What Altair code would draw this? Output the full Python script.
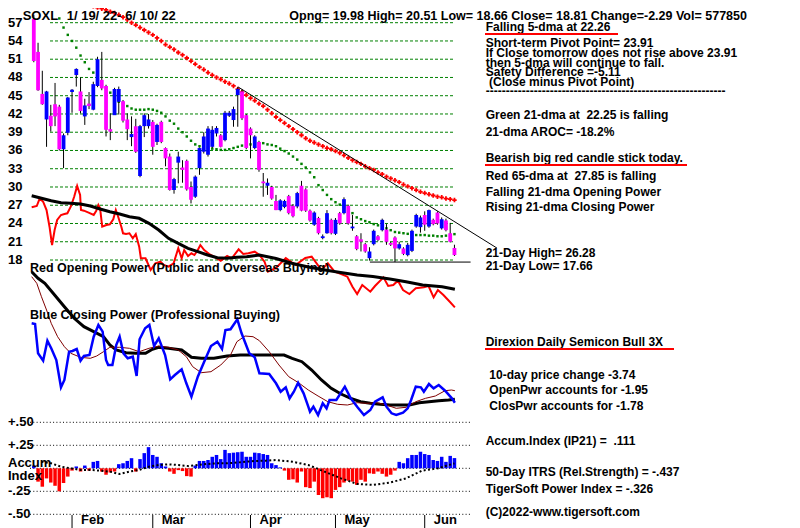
import altair as alt
import pandas as pd

# ---------------- data ----------------
TICKER = "SOXL"
PERIOD = "1/ 19/ 22- 6/ 10/ 22"
QUOTE = "Opng= 19.98 High= 20.51 Low= 18.66 Close= 18.81 Change=-2.29 Vol= 577850"

open_px = [57.6, 52.2, 45.3, 41.1, 41.7, 43.6, 43.2, 36.2, 38.9, 45.6,
           48.4, 45.7, 41.6, 43.7, 42.7, 46.6, 47.6, 46.6, 39.5, 41.8,
           44.0, 44.1, 41.1, 38.2, 40.0, 31.8, 40.0, 40.0, 40.7, 37.4,
           40.7, 36.4, 35.0, 29.5, 34.0, 33.2, 34.3, 30.0, 28.4, 33.1,
           35.8, 35.3, 36.6, 38.8, 38.5, 37.7, 41.7, 41.0, 45.1, 45.7,
           41.8, 39.6, 36.4, 37.4, 30.9, 30.2, 30.0, 27.7, 26.2, 26.7,
           28.5, 26.9, 26.8, 30.2, 29.6, 26.1, 23.8, 24.9, 21.6, 22.4,
           24.6, 22.3, 25.7, 25.7, 26.9, 23.2, 21.9, 21.4, 20.6, 18.3,
           20.6, 21.9, 22.9, 23.0, 20.8, 21.7, 19.9, 19.9, 18.8, 19.5,
           23.5, 23.4, 25.4, 23.5, 24.6, 25.8, 23.2, 24.5, 22.4, 19.98]
high_px = [58.3, 53.7, 49.1, 45.8, 43.5, 47.1, 43.5, 38.8, 44.8, 46.1,
           49.5, 48.0, 44.5, 45.6, 47.3, 51.4, 52.2, 46.8, 42.1, 46.3,
           46.5, 44.3, 42.1, 41.6, 41.2, 40.2, 42.1, 42.0, 41.0, 40.4,
           40.9, 36.5, 35.5, 31.5, 35.8, 34.4, 34.5, 30.9, 31.9, 36.5,
           39.0, 40.0, 40.0, 40.0, 38.7, 42.5, 42.5, 43.2, 46.4, 46.0,
           42.0, 39.8, 38.5, 37.6, 32.3, 31.4, 30.2, 28.7, 28.0, 27.9,
           28.7, 27.2, 29.2, 31.0, 29.8, 26.3, 26.0, 25.1, 22.2, 26.2,
           24.8, 24.9, 25.9, 28.3, 27.1, 25.4, 22.1, 22.4, 20.8, 20.1,
           23.0, 22.1, 24.8, 23.9, 21.0, 21.9, 21.0, 20.1, 20.8, 23.0,
           25.6, 25.3, 26.0, 26.28, 24.8, 26.0, 25.0, 24.8, 24.1, 20.51]
low_px = [50.5, 45.8, 43.5, 36.6, 39.1, 40.0, 36.0, 33.1, 38.5, 42.2,
          46.5, 42.1, 40.2, 42.8, 42.6, 46.4, 45.9, 38.3, 37.7, 42.0,
          41.9, 40.6, 37.7, 36.7, 35.6, 31.6, 38.2, 39.6, 35.3, 36.9,
          37.2, 33.4, 29.4, 28.9, 30.6, 30.7, 29.4, 27.3, 28.2, 32.0,
          35.5, 35.0, 36.4, 38.3, 36.5, 37.5, 41.5, 39.9, 39.9, 41.0,
          36.2, 34.7, 36.2, 32.5, 28.4, 28.7, 27.9, 26.2, 26.0, 26.5,
          25.5, 25.0, 26.5, 26.0, 25.9, 24.3, 23.6, 22.2, 21.4, 22.3,
          22.2, 22.1, 23.8, 25.5, 23.8, 22.8, 19.6, 19.4, 19.2, 17.9,
          20.4, 21.1, 22.7, 20.5, 20.3, 17.66, 19.7, 18.8, 18.6, 19.3,
          23.3, 22.5, 22.8, 23.3, 23.7, 23.8, 23.0, 22.7, 20.9, 18.66]
close_px = [50.7, 45.9, 43.6, 45.7, 40.0, 41.6, 36.2, 38.5, 44.7, 46.0,
            49.4, 42.5, 43.4, 43.3, 46.9, 51.0, 46.2, 39.4, 39.1, 46.1,
            46.1, 40.9, 39.5, 38.7, 35.8, 40.0, 41.8, 41.1, 36.6, 40.2,
            37.4, 34.7, 29.5, 31.3, 35.0, 32.8, 29.6, 27.9, 31.7, 36.4,
            38.3, 39.6, 39.4, 39.7, 36.6, 42.2, 42.2, 42.8, 46.1, 41.3,
            36.4, 38.5, 38.3, 32.8, 30.6, 30.7, 28.1, 26.2, 27.8, 27.7,
            25.7, 25.2, 29.0, 26.1, 26.1, 24.5, 25.8, 22.4, 21.9, 25.7,
            22.4, 24.6, 24.0, 28.0, 24.0, 23.5, 19.8, 21.0, 19.4, 19.4,
            22.8, 21.3, 24.6, 21.0, 20.5, 19.9, 20.6, 19.0, 20.5, 22.8,
            25.4, 25.0, 23.8, 26.2, 23.9, 24.0, 24.7, 22.9, 21.0, 18.81]

ma65_start = 3
ma65 = [60.7, 60.6, 60.5, 60.5, 60.4, 60.4, 60.3, 60.2, 60.1, 60.0,
        59.9, 59.7, 59.5, 59.3, 59.1, 58.8, 58.6, 58.3, 57.9, 57.5,
        57.0, 56.6, 56.2, 55.8, 55.4, 55.0, 54.5, 54.0, 53.4, 53.0,
        52.6, 52.1, 51.7, 51.2, 50.7, 50.2, 49.7, 49.3, 48.8, 48.4,
        48.0, 47.7, 47.3, 47.0, 46.6, 46.1, 45.6, 45.1, 44.6, 44.2,
        43.7, 43.3, 42.7, 42.1, 41.5, 41.0, 40.5, 40.0, 39.5, 39.0,
        38.5, 38.0, 37.6, 37.3, 37.0, 36.7, 36.4, 36.2, 35.9, 35.6,
        35.2, 34.8, 34.4, 34.1, 33.8, 33.4, 33.1, 32.8, 32.4, 32.1,
        31.7, 31.4, 31.1, 30.8, 30.4, 30.1, 29.8, 29.5, 29.2, 29.0,
        28.8, 28.6, 28.4, 28.3, 28.1, 28.0, 27.85]

ma21_start = 6
ma21 = [57.7, 56.2, 55.0, 54.0, 52.9, 51.6, 50.5, 49.4, 48.8, 47.9,
        47.0, 46.4, 45.5, 44.5, 44.0, 43.8, 43.3, 42.9, 42.7, 42.7,
        42.7, 42.8, 42.7, 42.5, 42.2, 41.6, 40.9, 40.4, 39.6, 39.0,
        38.3, 37.6, 37.0, 36.7, 36.6, 36.5, 36.3, 36.2, 36.1, 36.1,
        36.2, 36.4, 36.6, 36.8, 36.9, 37.0, 37.1, 37.2, 37.2, 37.0,
        36.9, 36.7, 36.3, 35.9, 35.5, 35.0, 34.5, 33.8, 33.2, 32.4,
        31.6, 30.3, 29.5, 28.7, 28.0, 27.5, 27.1, 26.7, 26.2, 25.7,
        25.0, 24.7, 24.4, 24.2, 23.9, 23.7, 23.4, 23.2, 22.9, 22.6,
        22.5, 22.4, 22.3, 22.1, 22.1, 22.1, 22.1, 22.0, 22.0, 21.9,
        21.9, 22.0, 22.1, 22.25]

trend_day = [48.1, 109.0]
trend_val = [46.43, 19.96]
low21 = 17.66
low21_span = [79.1, 102.8]

price_levels = [57, 54, 51, 48, 45, 42, 39, 36, 33, 30, 27, 24, 21, 18]

# Opening power (red) and its moving average (black)
op_day = [-0.5, 0.7, 1.4, 2.2, 3.0, 3.7, 4.3, 4.9, 5.5, 6.4, 7.2, 7.9, 8.7, 9.5, 10.2,
          10.9, 11.1, 11.8, 12.9, 14.1, 14.7, 15.2, 15.6, 16.1, 17.1, 17.9, 18.7, 19.3,
          19.8, 20.6, 21.0, 21.7, 22.5, 23.3, 24.0, 24.8, 25.2, 26.3, 27.5, 28.6, 29.8,
          30.6, 31.7, 32.9, 34.0, 34.8, 35.4, 36.3, 37.1, 37.8, 38.6, 39.2, 40.1, 41.3,
          42.4, 44.0, 45.5, 46.6, 48.2, 49.3, 50.5, 52.0, 53.1, 54.3, 55.1, 57.0, 59.3,
          61.6, 63.9, 65.4, 67.7, 69.2, 70.8, 71.9, 73.8, 75.0, 76.1, 77.3, 79.2, 80.3,
          82.3, 83.4, 84.6, 85.7, 86.9, 88.4, 89.9, 91.8, 92.9, 94.1, 95.1, 96.4, 97.9, 99.1]
op_val = [212.7, 214, 221.7, 218.3, 210, 193.3, 175, 190, 200, 205, 206, 206.7, 213.3,
          223.3, 234, 225, 210, 209.3, 207.3, 205, 209.3, 215, 211.7, 193.3, 195, 195.7,
          200.7, 210, 204, 193.3, 186.7, 186, 186.7, 181.7, 186, 173.3, 161.7, 161.7, 150,
          156.7, 158.3, 155, 153.3, 156.7, 171.7, 161.7, 170, 164, 166.7, 165, 170, 175,
          170, 166, 163.3, 159.3, 164, 161.7, 170.7, 166, 166.7, 168.3, 165, 158.3, 148.3,
          152, 162, 155, 162, 163.3, 150, 156.7, 148.3, 146.7, 143.3, 133.3, 126, 135,
          128.3, 134, 142.7, 134, 135, 139.3, 130, 126, 131.7, 132.7, 134, 122.7, 130,
          125, 118.3, 112.7]
opma_day = [-0.5, 1.8, 4.1, 6.4, 8.7, 11.0, 13.3, 15.6, 17.9, 20.2, 22.5, 24.8, 27.1,
            29.4, 31.7, 34.0, 36.3, 38.6, 40.9, 43.2, 45.5, 47.8, 50.1, 53.1, 57.0, 60.7,
            64.6, 68.5, 72.2, 76.1, 79.8, 83.8, 87.6, 91.5, 96.1, 99.1]
opma_val = [224.3, 221.7, 219.3, 217.3, 216.7, 216, 214, 211, 208.3, 206, 203.3, 201.7,
            196.7, 190, 181.7, 176.7, 171.7, 168.3, 165, 162.3, 161.7, 162.7, 163.3, 165,
            161.5, 156.7, 153, 150, 147.5, 145, 143.5, 141, 138.3, 135, 133.3, 130.7]

# Closing power (blue), its 21-dma (thin dark red) and longer average (black)
cp_day = [-0.5, 0.3, 1.0, 2.2, 3.2, 4.1, 5.3, 6.4, 7.2, 8.3, 9.1, 10.1, 11.0, 11.8, 13.1,
          14.1, 15.2, 16.2, 17.0, 17.5, 18.5, 19.4, 20.2, 21.1, 22.1, 23.3, 24.2, 24.9,
          26.2, 27.2, 28.3, 29.4, 30.9, 32.1, 33.2, 34.8, 35.9, 37.1, 38.6, 40.1, 41.7,
          43.2, 44.3, 45.1, 46.3, 47.9, 48.9, 50.7, 52.0, 53.1, 55.4, 57.0, 58.1, 59.3,
          60.2, 61.2, 62.2, 63.5, 64.6, 65.0, 65.8, 66.9, 68.0, 68.9, 69.6, 71.2, 73.2,
          74.6, 76.1, 77.7, 79.2, 80.3, 82.1, 83.0, 84.2, 85.3, 86.9, 88.0, 88.8, 89.9,
          91.1, 91.8, 93.0, 94.1, 95.3, 96.8, 98.4, 99.1]
cp_val = [96.7, 96, 66.7, 59.3, 79.3, 71.7, 60, 32.7, 40, 68.3, 69, 71, 59.3, 64, 65,
          83.3, 95, 88.3, 60, 55, 55, 75, 83.3, 66.7, 61.7, 63.3, 44, 80.7, 91.7, 95, 74,
          81.7, 65, 40.7, 45, 50.7, 36.7, 23.3, 43.3, 58.3, 74, 78.3, 71, 90, 90.7, 100.7,
          86.7, 66.7, 62.7, 46.7, 46, 36.7, 28.3, 32.7, 21.7, 28.3, 37.3, 26.7, 13.3, 8.3,
          13.3, 5, 16.7, 11.7, 20, 20, 33.3, 21.7, 13.3, 5, 10, 18.3, 22.7, 13.3, 6.7, 5,
          7.3, 11.7, 20, 33.3, 32.7, 28.3, 36, 31.7, 35, 29.3, 21.7, 17.3]
cpm_day = [-0.5, 0.7, 1.8, 3.0, 4.1, 5.6, 7.2, 8.7, 11.0, 13.3, 14.8, 16.4, 17.9, 20.2,
           22.5, 24.8, 27.1, 29.4, 31.7, 34.0, 35.9, 37.4, 39.4, 41.7, 44.0, 46.3, 47.8,
           49.7, 51.6, 53.1, 55.4, 57.7, 60.0, 62.3, 64.6, 66.9, 69.2, 71.5, 73.8, 76.1,
           78.4, 80.7, 83.0, 85.3, 87.6, 89.9, 92.2, 94.5, 96.8, 98.3, 99.1]
cpm_val = [143.3, 136.7, 123.3, 110, 96.7, 83.3, 73.3, 66.7, 62.7, 61.7, 64, 68.3, 72.7,
           72.7, 71.7, 68.3, 71.7, 74, 72.7, 70, 63.3, 53.3, 47.3, 48.3, 55, 65, 78.3, 84,
           83.3, 79.3, 68.3, 55, 43.3, 37.3, 30, 24, 18.3, 15.7, 15, 17.3, 16.7, 17.3, 15,
           11.7, 12.7, 18.3, 21.7, 24, 29.3, 30, 29.3]
cpl_day = [-0.5, 1.0, 2.6, 4.9, 7.2, 9.5, 11.8, 14.1, 16.4, 17.9, 19.4, 21.7, 24.0, 26.3,
           27.9, 29.4, 31.7, 34.8, 37.1, 39.4, 42.4, 45.5, 48.6, 51.6, 55.4, 58.9, 60.8,
           63.1, 65.4, 67.7, 70.0, 72.3, 74.6, 76.9, 79.2, 81.5, 83.8, 88.4, 90.7, 93.0,
           95.3, 97.6, 99.1]
cpl_val = [148.3, 141.7, 136.7, 125, 113.3, 101.7, 93.3, 88.3, 83.3, 75, 70, 67.3, 66.7,
           66.7, 70.7, 72.7, 71.7, 70, 62.7, 61.7, 61.7, 64, 65, 65, 65, 65, 61.7, 58.3,
           50, 40, 31.7, 26, 21.7, 18.3, 16.7, 15.7, 15, 15, 17.3, 18.3, 19.3, 20, 20.7]

# Accumulation index (IP21) histogram and its dotted average
ip21 = [0.03, -0.145, -0.2, -0.11, -0.155, -0.19, -0.25, -0.16, -0.09, -0.025,
        0.02, -0.035, 0.03, -0.025, 0.07, 0.08, -0.035, -0.07, -0.045, -0.035,
        0.045, 0.055, 0.08, 0.11, -0.035, 0.10, 0.165, 0.23, 0.145, 0.125,
        0.055, 0.02, -0.035, -0.06, -0.02, -0.03, -0.085, -0.09, 0.03, 0.08,
        0.08, 0.09, 0.125, 0.145, 0.10, 0.2, 0.165, 0.17, 0.175, 0.18,
        0.125, 0.125, 0.17, 0.165, 0.155, 0.145, 0.055, 0.035, 0.01, -0.025,
        -0.125, -0.12, -0.155, -0.035, -0.205, -0.215, -0.145, -0.29, -0.325, -0.315,
        -0.325, -0.235, -0.205, -0.155, -0.135, -0.145, -0.18, -0.125, -0.145, -0.055,
        -0.06, -0.035, -0.06, -0.09, -0.07, -0.025, 0.07, 0.055, 0.11, 0.145,
        0.145, 0.18, 0.155, 0.145, 0.09, 0.08, 0.125, 0.07, 0.135, 0.111]
ipma_day = [1.8, 4.1, 6.4, 8.7, 11.0, 13.3, 15.6, 17.9, 20.2, 22.5, 24.8, 27.1, 29.4,
            31.7, 34.0, 36.3, 38.5, 40.8, 43.1, 45.4, 47.7, 50.0, 52.3, 54.6, 56.9, 60.8,
            64.6, 68.4, 72.3, 76.1, 79.9, 83.7, 87.6, 91.4, 95.2, 99.0]
ipma_val = [0.072, 0.054, 0.018, 0.0, -0.018, -0.018, -0.025, -0.036, -0.062, -0.036,
            -0.018, 0.018, 0.036, 0.043, 0.036, 0.025, 0.036, 0.047, 0.054, 0.054, 0.062,
            0.072, 0.08, 0.083, 0.09, 0.072, 0.036, -0.036, -0.109, -0.17, -0.181, -0.156,
            -0.109, -0.025, 0.0, 0.054]
acc_levels = [0.5, 0.25, 0.0, -0.25, -0.5]
acc_labels = ["+.50", "+.25", "", "-.25", "-.50"]

months = ["Feb", "Mar", "Apr", "May", "Jun"]
month_start = [9, 28, 51, 71, 92]

notes = ["Falling 5-dma at 22.26",
         "Short-term Pivot Point= 23.91",
         "If Close tomorrow does not rise above 23.91",
         "then 5-dma will continue to fall.",
         "Safety Difference =-5.11",
         "(Close minus Pivot Point)",
         "-" * 60,
         "Green 21-dma at \u00a022.25 is falling",
         "21-dma AROC= -18.2%",
         "Bearish big red candle stick today.",
         "Red 65-dma at \u00a027.85 is falling",
         "Falling 21-dma Opening Power",
         "Rising 21-dma Closing Power",
         "21-Day High= 26.28",
         "21-Day Low= 17.66",
         "Direxion Daily Semicon Bull 3X",
         "10-day price change -3.74",
         "OpenPwr accounts for -1.95",
         "ClosPwr accounts for -1.78",
         "Accum.Index (IP21) = \u00a0.111",
         "50-Day ITRS (Rel.Strength) = -.437",
         "TigerSoft Power Index = -.326",
         "(C)2022-www.tigersoft.com"]

# ---------------- layout ----------------
OX, OY = 8, 8
def px(x):
    return x - OX
def py(y):
    return y - OY

FONT = "Liberation Sans"
X_SCALE = alt.Scale(domain=[0, 99], range=[px(28.8), px(28.8 + 4.35 * 99)], nice=False, zero=False)
PRICE_SCALE = alt.Scale(domain=[18, 57], range=[py(260.0), py(22.7)], nice=False, zero=False)
POWER_SCALE = alt.Scale(domain=[0, 250], range=[py(420), py(170)], nice=False, zero=False)
ACC_SCALE = alt.Scale(domain=[-0.5, 0.5], range=[py(514.3), py(422.3)], nice=False, zero=False)


def X(field):
    return alt.X(field, scale=X_SCALE, axis=None)


def text_at(s, x, y, size=12, align="left", color="black"):
    return alt.Chart(pd.DataFrame({"t": [s]})).mark_text(
        align=align, baseline="middle", font=FONT, fontSize=size,
        fontWeight="bold", color=color
    ).encode(text="t:N", x=alt.value(px(x)), y=alt.value(py(y)))


def hline(x1, x2, y, color="red", width=2):
    return alt.Chart(pd.DataFrame({"a": [0]})).mark_rule(
        color=color, strokeWidth=width
    ).encode(x=alt.value(px(x1)), x2=alt.value(px(x2)), y=alt.value(py(y)))


candles = pd.DataFrame({"d": list(range(100)), "o": open_px, "h": high_px,
                        "l": low_px, "c": close_px})
up = candles[candles.c >= candles.o]
down = candles[candles.c < candles.o]

layers = []

# price grid
layers.append(alt.Chart(pd.DataFrame({"p": price_levels})).mark_rule(
    color="#008000", strokeDash=[3, 2], strokeWidth=1
).encode(y=alt.Y("p:Q", scale=PRICE_SCALE, axis=None),
         x=alt.value(px(50)), x2=alt.value(px(453))))
layers.append(alt.Chart(pd.DataFrame({"p": price_levels, "lab": [str(v) for v in price_levels]})).mark_text(
    align="left", baseline="middle", font=FONT, fontSize=13, fontWeight="bold", color="black"
).encode(y=alt.Y("p:Q", scale=PRICE_SCALE, axis=None), text="lab:N", x=alt.value(0)))

# opening power panel
layers.append(alt.Chart(pd.DataFrame({"d": op_day, "v": op_val})).mark_line(
    color="#FF0000", strokeWidth=2).encode(x=X("d:Q"), y=alt.Y("v:Q", scale=POWER_SCALE, axis=None)))
layers.append(alt.Chart(pd.DataFrame({"d": opma_day, "v": opma_val})).mark_line(
    color="black", strokeWidth=3).encode(x=X("d:Q"), y=alt.Y("v:Q", scale=POWER_SCALE, axis=None)))

# closing power panel
layers.append(alt.Chart(pd.DataFrame({"d": cpl_day, "v": cpl_val})).mark_line(
    color="black", strokeWidth=3).encode(x=X("d:Q"), y=alt.Y("v:Q", scale=POWER_SCALE, axis=None)))
layers.append(alt.Chart(pd.DataFrame({"d": cpm_day, "v": cpm_val})).mark_line(
    color="#800000", strokeWidth=1).encode(x=X("d:Q"), y=alt.Y("v:Q", scale=POWER_SCALE, axis=None)))
layers.append(alt.Chart(pd.DataFrame({"d": cp_day, "v": cp_val})).mark_line(
    color="#0000FF", strokeWidth=2.5).encode(x=X("d:Q"), y=alt.Y("v:Q", scale=POWER_SCALE, axis=None)))

# moving averages on price
layers.append(alt.Chart(pd.DataFrame({"d": list(range(ma21_start, 100)), "v": ma21})).mark_square(
    color="#008000", size=6, opacity=1).encode(x=X("d:Q"), y=alt.Y("v:Q", scale=PRICE_SCALE, axis=None)))
layers.append(alt.Chart(pd.DataFrame({"d": list(range(ma65_start, 100)), "v": ma65})).mark_point(
    shape="cross", filled=True, color="#FF0000", size=20, opacity=1).encode(
    x=X("d:Q"), y=alt.Y("v:Q", scale=PRICE_SCALE, axis=None)))

# trend line and 21-day low line
layers.append(alt.Chart(pd.DataFrame({"d": trend_day, "v": trend_val})).mark_line(
    color="black", strokeWidth=1).encode(x=X("d:Q"), y=alt.Y("v:Q", scale=PRICE_SCALE, axis=None)))
layers.append(alt.Chart(pd.DataFrame({"d": [low21_span[0]], "d2": [low21_span[1]], "v": [low21]})).mark_rule(
    color="black", strokeWidth=1).encode(x=X("d:Q"), x2="d2:Q", y=alt.Y("v:Q", scale=PRICE_SCALE, axis=None)))

# candles
layers.append(alt.Chart(candles).mark_rule(color="black", strokeWidth=1).encode(
    x=X("d:Q"), y=alt.Y("l:Q", scale=PRICE_SCALE, axis=None), y2="h:Q"))
layers.append(alt.Chart(up).mark_bar(color="#0000FF", size=3.8, orient="vertical").encode(
    x=X("d:Q"), y=alt.Y("o:Q", scale=PRICE_SCALE, axis=None), y2="c:Q"))
layers.append(alt.Chart(down).mark_bar(color="#FF00FF", size=3.8, orient="vertical").encode(
    x=X("d:Q"), y=alt.Y("o:Q", scale=PRICE_SCALE, axis=None), y2="c:Q"))

# accumulation panel
acc = pd.DataFrame({"d": list(range(100)), "v": ip21, "z": [0.0] * 100})
layers.append(alt.Chart(pd.DataFrame({"v": acc_levels})).mark_rule(
    color="black", strokeWidth=1, strokeDash=[1, 2.3]).encode(
    y=alt.Y("v:Q", scale=ACC_SCALE, axis=None), x=alt.value(px(30)), x2=alt.value(px(471))))
layers.append(alt.Chart(acc[acc.v >= 0]).mark_bar(color="#0000FF", size=3.5, orient="vertical").encode(
    x=X("d:Q"), y=alt.Y("v:Q", scale=ACC_SCALE, axis=None), y2="z:Q"))
layers.append(alt.Chart(acc[acc.v < 0]).mark_bar(color="#FF0000", size=3.5, orient="vertical").encode(
    x=X("d:Q"), y=alt.Y("v:Q", scale=ACC_SCALE, axis=None), y2="z:Q"))
layers.append(alt.Chart(pd.DataFrame({"d": ipma_day, "v": ipma_val})).mark_line(
    color="black", strokeWidth=2, strokeDash=[2, 2.35]).encode(
    x=X("d:Q"), y=alt.Y("v:Q", scale=ACC_SCALE, axis=None)))
layers.append(alt.Chart(pd.DataFrame({"v": acc_levels, "lab": acc_labels})).mark_text(
    align="left", baseline="middle", font=FONT, fontSize=13, fontWeight="bold", color="black"
).encode(y=alt.Y("v:Q", scale=ACC_SCALE, axis=None), text="lab:N", x=alt.value(0)))
layers.append(text_at("Accum", 8, 462.7, size=13))
layers.append(text_at("Index", 8, 475.5, size=13))

# month ticks & labels
mdf = pd.DataFrame({"d": month_start, "m": months})
layers.append(alt.Chart(mdf).mark_rule(color="black", strokeWidth=1).encode(
    x=X("d:Q"), y=alt.value(py(515)), y2=alt.value(py(528))))
layers.append(alt.Chart(mdf).mark_text(
    align="left", baseline="middle", dx=9, font=FONT, fontSize=13, fontWeight="bold", color="black"
).encode(x=X("d:Q"), y=alt.value(py(520)), text="m:N"))

# titles (the reference's top line sits inside the page margin, so it is nudged down)
layers.append(text_at(TICKER, 22.7, 16, size=13))
layers.append(text_at(PERIOD, 66.7, 16, size=13))
layers.append(text_at(QUOTE, 289.3, 16, size=12.5))
layers.append(text_at("Red Opening Power (Public and Overseas Buying)", 30, 268.3, size=12.5))
layers.append(text_at("Blue Closing Power (Professional Buying)", 30, 315, size=12.5))

# right-hand notes
note_y = [27, 42.5, 52.8, 62.8, 72.2, 82.2, 91, 115, 131.7, 158.3, 175.7, 192.3, 207.3,
          252.7, 266, 341.7, 375, 390, 406, 440.7, 471.7, 489.3, 511.7]
note_x = [485.7] * len(notes)
note_x[5] = 489
note_x[16] = 489.3
note_x[17] = 489.3
note_x[18] = 489.3
for s, x, y in zip(notes, note_x, note_y):
    layers.append(text_at(s, x, y, size=12))
layers.append(hline(485, 618, 34))
layers.append(hline(485, 687, 165))
layers.append(hline(485, 674, 349))

chart = alt.layer(*layers).resolve_scale(y="independent").properties(
    width=784, height=520, padding=0,
    autosize=alt.AutoSizeParams(type="none"), background="white"
).configure_view(stroke=None)

chart.save("out.html", embed_options={"renderer": "svg", "actions": False})
